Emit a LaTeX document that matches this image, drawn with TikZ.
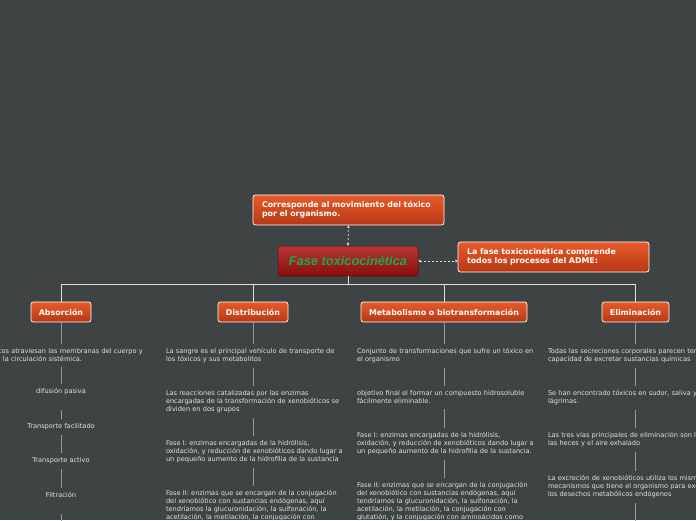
\documentclass[tikz,border=0pt]{standalone}
\usepackage{fontspec}
\newfontfamily\mapfont{DejaVu Sans}
\newfontfamily\headfont{Liberation Sans}
\usetikzlibrary{arrows.meta}

\definecolor{canvas}{RGB}{62,67,68}
\definecolor{wirecol}{RGB}{222,224,224}
\definecolor{threadcol}{RGB}{150,155,156}
\definecolor{ortop}{RGB}{232,90,40}
\definecolor{orbot}{RGB}{182,56,22}
\definecolor{redtop}{RGB}{182,54,52}
\definecolor{redbot}{RGB}{136,14,14}
\definecolor{headgreen}{RGB}{28,170,72}
\definecolor{notecol}{RGB}{226,228,228}

\begin{document}
\begin{tikzpicture}[x=1pt, y=-1pt, >={Stealth[length=2.6pt,width=2.8pt]},
  topic/.style={draw=white, line width=0.7pt, rounded corners=2.5pt,
    top color=ortop, bottom color=orbot, text=white,
    font=\mapfont\bfseries\fontsize{7.9}{9}\selectfont},
  infobox/.style={topic, text width=173pt, inner xsep=9pt, align=left, minimum height=30pt},
  branch/.style={topic, minimum height=20pt, inner xsep=0pt},
  note/.style={anchor=north, text=notecol, font=\mapfont\fontsize{6.6}{8}\selectfont,
    execute at begin node={\hyphenpenalty=10000\relax},
    text width=180pt, align=left, inner xsep=0pt, inner ysep=4.5pt},
  item/.style={anchor=north, text=notecol, font=\mapfont\fontsize{6.6}{8}\selectfont,
    inner xsep=0pt, inner ysep=4.5pt},
  wire/.style={draw=wirecol, line width=0.8pt},
  thread/.style={draw=threadcol, line width=1pt},
  link/.style={draw=wirecol, line width=0.7pt, <->, dash pattern=on 2pt off 2pt}]

  \useasboundingbox (0,0) rectangle (696,520);
  \clip (0,0) rectangle (696,520);
  \fill[canvas] (0,0) rectangle (696,520);

  % central topic and its two notes
  \node[draw=redbot!70!black, line width=0.5pt, rounded corners=2.5pt,
    top color=redtop, bottom color=redbot, minimum width=140pt, minimum height=30pt,
    text=headgreen, font=\headfont\bfseries\itshape\fontsize{12.8}{14}\selectfont]
    (core) at (348,261) {Fase toxicocinética};
  \node[infobox] (motion) at (348.5,210)
    {Corresponde al movimiento del tóxico\\por el organismo.};
  \node[infobox] (adme) at (553.5,257)
    {La fase toxicocinética comprende\\todos los procesos del ADME:};
  \draw[link] (core.north) -- (motion.south);
  \draw[link] (core.east) -- (core.east -| adme.west);

  % the four phases
  \node[branch, minimum width=60pt] (a0) at (61,312) {Absorción};
  \node[branch, minimum width=70pt] (d0) at (253,312) {Distribución};
  \node[branch, minimum width=166pt] (m0) at (444,312) {Metabolismo o biotransformación};
  \node[branch, minimum width=67pt] (e0) at (635.5,312) {Eliminación};
  \coordinate (hub) at (348,284);
  \draw[wire] (core.south) -- (hub);
  \foreach \b in {a0,d0,m0,e0}
    \draw[wire] (hub) -| (\b.north);

  % Absorcion
  \node[note] (a1) at (61,344)
    {\hspace*{28pt}tos atraviesan las membranas del cuerpo y\\\hspace*{32pt}la circulación sistémica.};
  \node[item, text depth=11.6pt] (a2) at (61,384) {difusión pasiva};
  \node[item] (a3) at (61,419) {Transporte facilitado};
  \node[item] (a4) at (61,453) {Transporte activo};
  \node[item, text depth=11pt] (a5) at (61,488) {Filtración};

  % Distribucion
  \node[note] (d1) at (256,344)
    {La sangre es el principal vehículo de transporte de\\los tóxicos y sus metabolitos};
  \node[note] (d2) at (256,386)
    {Las reacciones catalizadas por las enzimas\\encargadas de la transformación de xenobióticos se\\dividen en dos grupos};
  \node[note] (d3) at (256,436)
    {Fase I: enzimas encargadas de la hidrólisis,\\oxidación, y reducción de xenobióticos dando lugar a\\un pequeño aumento de la hidrofilia de la sustancia};
  \node[note] (d4) at (256,486)
    {Fase II: enzimas que se encargan de la conjugación\\del xenobiótico con sustancias endógenas, aquí\\tendríamos la glucuronidación, la sulfonación, la\\acetilación, la metilación, la conjugación con};

  % Metabolismo
  \node[note] (m1) at (447,344)
    {Conjunto de transformaciones que sufre un tóxico en\\el organismo};
  \node[note] (m2) at (447,386)
    {objetivo final el formar un compuesto hidrosoluble\\fácilmente eliminable.};
  \node[note] (m3) at (447,428)
    {Fase I: enzimas encargadas de la hidrólisis,\\oxidación, y reducción de xenobióticos dando lugar a\\un pequeño aumento de la hidrofilia de la sustancia.};
  \node[note] (m4) at (447,478)
    {Fase II: enzimas que se encargan de la conjugación\\del xenobiótico con sustancias endógenas, aquí\\tendríamos la glucuronidación, la sulfonación, la\\acetilación, la metilación, la conjugación con\\glutatión, y la conjugación con aminoácidos como};

  % Eliminacion
  \node[note] (e1) at (638,344)
    {\mbox{Todas las secreciones corporales parecen tener}\\capacidad de excretar sustancias químicas};
  \node[note] (e2) at (638,386)
    {Se han encontrado tóxicos en sudor, saliva y\\lágrimas.};
  \node[note] (e3) at (638,428)
    {\mbox{Las tres vías principales de eliminación son la}\\las heces y el aire exhalado};
  \node[note] (e4) at (638,471)
    {\mbox{La excreción de xenobióticos utiliza los mismos}\\\mbox{mecanismos que tiene el organismo para excretar}\\los desechos metabólicos endógenos};

  % threads down each column
  \foreach \c/\n in {a/5,d/4,m/4,e/4}
    \foreach \i [count=\j from 0] in {1,...,\n}
      \draw[thread] (\c\j.south -| \c0.south) -- (\c\i.north -| \c0.south);
  \coordinate (aend) at (61,524);
  \coordinate (eend) at (635.5,524);
  \draw[thread] (a5.south) -- (aend);
  \draw[thread] (e4.south -| e0.south) -- (eend);
\end{tikzpicture}
\end{document}
